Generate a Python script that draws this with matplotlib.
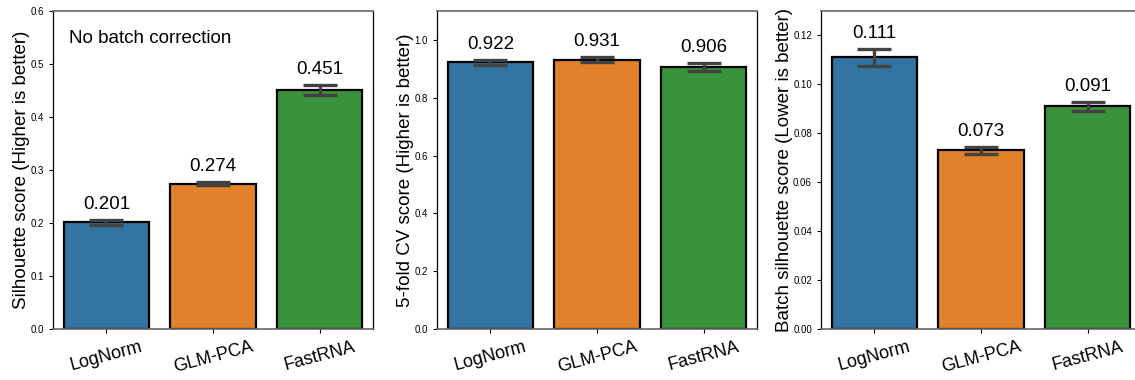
import matplotlib
matplotlib.use('Agg')
from matplotlib import pyplot as plt

plt.rcParams['font.family'] = ['Liberation Sans', 'DejaVu Sans']

methods = ['LogNorm', 'GLM-PCA', 'FastRNA']
colors = ['#3274a1', '#e1812c', '#3a923a']

sil_vals = [0.201, 0.274, 0.451]
sil_err = [0.004, 0.003, 0.010]

cv_vals = [0.922, 0.931, 0.906]
cv_err = [0.010, 0.009, 0.014]

batch_vals = [0.111, 0.073, 0.091]
batch_err = [0.0033, 0.0015, 0.0018]

panels = [
    (sil_vals, sil_err, 'Silhouette score (Higher is better)', 0.6, [0, 0.1, 0.2, 0.3, 0.4, 0.5, 0.6], '{:.1f}'),
    (cv_vals, cv_err, '5-fold CV score (Higher is better)', 1.1, [0, 0.2, 0.4, 0.6, 0.8, 1.0], '{:.1f}'),
    (batch_vals, batch_err, 'Batch silhouette score (Lower is better)', 0.13, [0, 0.02, 0.04, 0.06, 0.08, 0.10, 0.12], '{:.2f}'),
]

fig = plt.figure(figsize=(11.35, 3.8), dpi=100)
lefts = [53, 437, 821]
for i, (vals, errs, ylab, ymax, ticks, fmt) in enumerate(panels):
    ax = fig.add_axes([lefts[i] / 1135, (380 - 329) / 380, 320 / 1135, 318 / 380])
    x = range(len(methods))
    ax.bar(x, vals, width=0.8, color=colors, edgecolor='black', linewidth=1.6, zorder=2)
    ax.errorbar(x, vals, yerr=errs, fmt='none', ecolor='#424242', elinewidth=2.4,
                capsize=12, capthick=2.4, zorder=3)
    for xi, v, e in zip(x, vals, errs):
        ax.annotate('{:.3f}'.format(v), (xi, v + e), xytext=(0, 5), textcoords='offset points',
                    ha='center', va='bottom', fontsize=13.5)
    ax.set_xlim(-0.5, 2.5)
    ax.set_ylim(0, ymax)
    ax.set_yticks(ticks)
    ax.set_yticklabels([fmt.format(t) for t in ticks], fontsize=7)
    ax.set_xticks(list(x))
    ax.set_xticklabels(methods, fontsize=13, rotation=15)
    ax.set_ylabel(ylab, fontsize=13.5, labelpad=0)
    ax.tick_params(axis='y', length=3, width=0.8)
    ax.tick_params(axis='x', length=3, width=0.8)
    for s in ['left', 'right']:
        ax.spines[s].set_color('black')
        ax.spines[s].set_linewidth(0.9)
    for s in ['top', 'bottom']:
        ax.spines[s].set_color('#666666')
        ax.spines[s].set_linewidth(1.2)
    if i == 0:
        ax.text(0.05, 0.915, 'No batch correction', transform=ax.transAxes, fontsize=13.5,
                ha='left', va='center')

fig.savefig('out.png', dpi=100)
